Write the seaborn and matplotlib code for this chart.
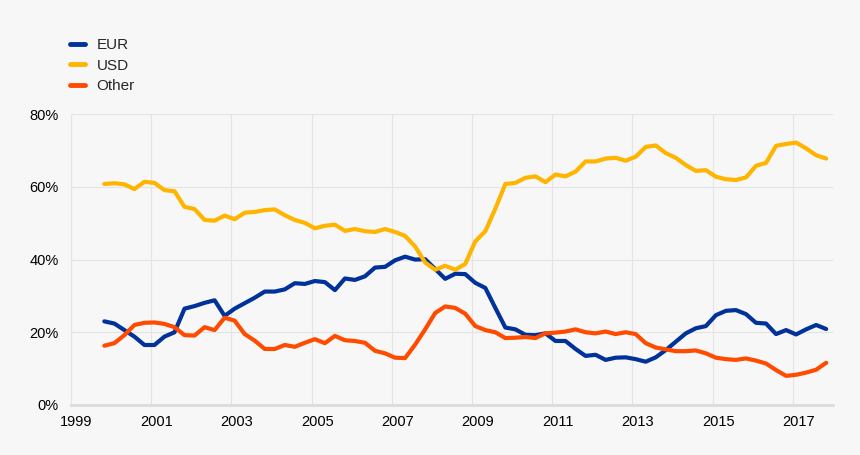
#!/usr/bin/env python3
import numpy as np
import pandas as pd
import matplotlib
matplotlib.use("Agg")
import matplotlib.pyplot as plt
import matplotlib.transforms as mtransforms
from matplotlib.ticker import FuncFormatter
import seaborn as sns

# Quarterly shares (%), Q4 1999 .. Q4 2017
quarters = 1999.83 + 0.25 * np.arange(73)

eur = [23.0, 22.4, 20.6, 18.8, 16.5, 16.5, 18.8, 20.0, 26.5, 27.2,
       28.1, 28.8, 24.5, 26.5, 28.0, 29.5, 31.2, 31.2, 31.8, 33.5,
       33.3, 34.1, 33.8, 31.6, 34.8, 34.4, 35.4, 37.8, 38.0, 39.8,
       40.8, 40.0, 40.1, 37.4, 34.7, 36.1, 36.0, 33.6, 32.2, 26.7,
       21.3, 20.8, 19.3, 19.2, 19.7, 17.6, 17.6, 15.4, 13.5, 13.8,
       12.4, 13.0, 13.1, 12.6, 11.9, 13.1, 15.1, 17.4, 19.7, 21.1,
       21.7, 24.7, 25.9, 26.1, 25.0, 22.6, 22.4, 19.5, 20.6, 19.4,
       20.8, 22.0, 20.9]

usd = [60.8, 61.0, 60.7, 59.4, 61.4, 61.1, 59.1, 58.8, 54.5, 53.9,
       50.9, 50.7, 52.1, 51.1, 52.9, 53.1, 53.6, 53.8, 52.2, 50.9,
       50.1, 48.6, 49.3, 49.6, 47.9, 48.4, 47.8, 47.6, 48.4, 47.6,
       46.5, 43.6, 39.2, 37.2, 38.3, 37.2, 38.8, 45.0, 47.8, 54.0,
       60.8, 61.1, 62.5, 62.9, 61.3, 63.4, 62.9, 64.2, 67.0, 67.0,
       67.8, 68.0, 67.2, 68.3, 71.0, 71.4, 69.3, 68.0, 66.0, 64.4,
       64.6, 62.8, 62.1, 61.9, 62.6, 65.8, 66.6, 71.3, 71.8, 72.2,
       70.6, 68.7, 67.8]

other = [16.3, 17.0, 19.2, 22.0, 22.6, 22.7, 22.3, 21.4, 19.2, 19.1,
         21.4, 20.6, 24.0, 23.2, 19.5, 17.7, 15.4, 15.4, 16.5, 16.0,
         17.1, 18.1, 17.0, 19.0, 17.8, 17.6, 17.1, 14.9, 14.2, 13.0,
         12.9, 16.6, 20.8, 25.3, 27.1, 26.7, 25.1, 21.7, 20.6, 20.0,
         18.4, 18.5, 18.7, 18.4, 19.7, 19.9, 20.2, 20.8, 20.0, 19.7,
         20.2, 19.5, 20.0, 19.5, 17.0, 15.8, 15.3, 14.8, 14.8, 15.0,
         14.2, 13.0, 12.6, 12.4, 12.8, 12.2, 11.4, 9.6, 8.0, 8.3,
         8.9, 9.7, 11.6]

series_names = ["EUR", "USD", "Other"]
colors = {"EUR": "#003299", "USD": "#ffb400", "Other": "#ff4b00"}
year_ticks = list(range(1999, 2018, 2))
pct_ticks = [0, 20, 40, 60, 80]

df = pd.concat([
    pd.DataFrame({"date": quarters, "share": vals, "currency": name})
    for name, vals in zip(series_names, [eur, usd, other])
], ignore_index=True)

sns.set_theme(style="whitegrid")
plt.rcParams['font.family'] = ['Liberation Sans', 'DejaVu Sans']

bg = "#f7f7f7"
fig = plt.figure(figsize=(8.6, 4.55), dpi=100, facecolor=bg)
ax = fig.add_axes([0.0826, 0.11, 0.886, 0.639], facecolor=bg)

sns.lineplot(data=df, x="date", y="share", hue="currency",
             hue_order=series_names, palette=colors, linewidth=3.0,
             ax=ax, legend=False)

ax.set_xlim(1999, 2018)
ax.set_ylim(0, 80)
ax.set_xticks(year_ticks)
ax.set_yticks(pct_ticks)
ax.yaxis.set_major_formatter(FuncFormatter(lambda v, p: f"{v:.0f}%"))
ax.set_xlabel("")
ax.set_ylabel("")
ax.grid(True, color="#e4e4e4", linewidth=0.8)
ax.tick_params(axis="both", length=0, labelsize=10.5, colors="#000000")
ax.tick_params(axis="y", pad=9)
ax.tick_params(axis="x", pad=7)

for side in ["top", "right"]:
    ax.spines[side].set_visible(False)
ax.spines["left"].set_color("#e4e4e4")
ax.spines["left"].set_linewidth(0.8)
ax.spines["bottom"].set_color("#dcdcdc")
ax.spines["bottom"].set_linewidth(2.0)

# nudge year labels slightly right of their gridlines
offset = mtransforms.ScaledTranslation(4 / 72, 0, fig.dpi_scale_trans)
for lbl in ax.get_xticklabels():
    lbl.set_transform(lbl.get_transform() + offset)

handles = [plt.Line2D([], [], color=colors[n], linewidth=3.5) for n in series_names]
fig.legend(handles, series_names, loc="upper left",
           bbox_to_anchor=(0.0814, 0.916), frameon=False, fontsize=11,
           borderpad=0, borderaxespad=0,
           handlelength=1.0, handletextpad=0.75, labelspacing=0.42)

fig.savefig("out.png", dpi=100, facecolor=bg)
